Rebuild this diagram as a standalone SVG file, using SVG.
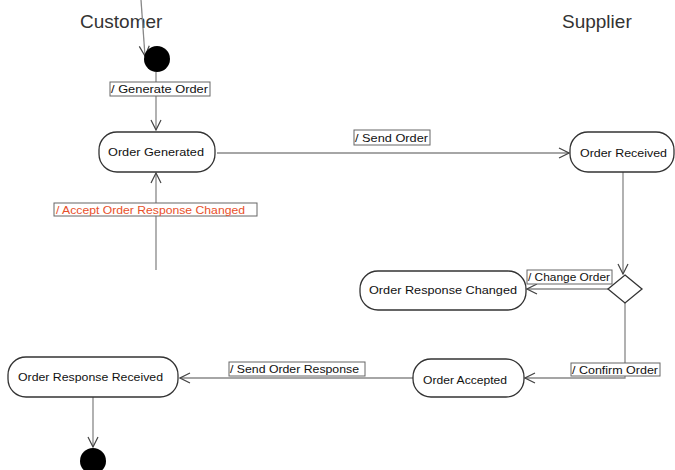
<svg xmlns="http://www.w3.org/2000/svg" width="675" height="470" viewBox="0 0 675 470">
<defs>
<marker id="arr" viewBox="0 0 12 12" refX="11" refY="6" markerWidth="12" markerHeight="12" markerUnits="userSpaceOnUse" orient="auto">
<path d="M1,1 L11,6 L1,11" fill="none" stroke="#444" stroke-width="1.2"/>
</marker>
<style>
.lane{font-family:"Liberation Sans",Arial,sans-serif;font-size:19px;fill:#333}
.node{fill:#fff;stroke:#333;stroke-width:1.3}
.nt{font-family:"Liberation Sans",Arial,sans-serif;font-size:11.5px;fill:#111;dominant-baseline:central}
.lb{fill:#fff;stroke:#666;stroke-width:1}
.lt{font-family:"Liberation Sans",Arial,sans-serif;font-size:11px;fill:#111;dominant-baseline:central}
.red{fill:#e8502a}
.c{fill:none;stroke:#888;stroke-width:1.3}
</style>
</defs>
<rect width="675" height="470" fill="#fff"/>
<text class="lane" x="80" y="28">Customer</text>
<text class="lane" x="562" y="28">Supplier</text>

<g id="connectors">
<path class="c" d="M141,0 L145,56" marker-end="url(#arr)"/>
<path class="c" d="M156,72 L156,130" marker-end="url(#arr)"/>
<path class="c" d="M156,270 L156,173" marker-end="url(#arr)"/>
<path class="c" d="M217,153 L569,153" marker-end="url(#arr)"/>
<path class="c" d="M623,172 L623,274" marker-end="url(#arr)"/>
<path class="c" d="M608,289 L527,289" marker-end="url(#arr)"/>
<path class="c" d="M625,303 L625,378 L525,378" marker-end="url(#arr)"/>
<path class="c" d="M413,378 L180,378" marker-end="url(#arr)"/>
<path class="c" d="M93,397 L93,447" marker-end="url(#arr)"/>
<g id="label-generate"><rect class="lb" x="110" y="82" width="100" height="14"/><text class="lt" x="111" y="89" textLength="97" lengthAdjust="spacingAndGlyphs">/ Generate Order</text></g>
<g id="label-accept"><rect class="lb" x="54" y="203" width="203" height="13"/><text class="lt red" x="56" y="209.5" textLength="189" lengthAdjust="spacingAndGlyphs">/ Accept Order Response Changed</text></g>
<g id="label-send"><rect class="lb" x="354" y="130" width="76" height="15"/><text class="lt" x="355" y="137.5" textLength="73" lengthAdjust="spacingAndGlyphs">/ Send Order</text></g>
<g id="label-change"><rect class="lb" x="527" y="270" width="85" height="14"/><text class="lt" x="528" y="277" textLength="82" lengthAdjust="spacingAndGlyphs">/ Change Order</text></g>
<g id="label-confirm"><rect class="lb" x="571" y="363" width="89" height="13"/><text class="lt" x="572" y="369.5" textLength="86" lengthAdjust="spacingAndGlyphs">/ Confirm Order</text></g>
<g id="label-sendresp"><rect class="lb" x="229" y="362" width="136" height="14"/><text class="lt" x="230" y="369" textLength="129" lengthAdjust="spacingAndGlyphs">/ Send Order Response</text></g>
</g>

<g id="start"><circle cx="157" cy="59" r="13" fill="#000"/></g>
<g id="order-generated"><rect class="node" x="99" y="132" width="116" height="40" rx="18"/><text class="nt" x="108" y="152" textLength="96" lengthAdjust="spacingAndGlyphs">Order Generated</text></g>
<g id="order-received"><rect class="node" x="570" y="132" width="104" height="40" rx="18"/><text class="nt" x="580" y="153" textLength="87" lengthAdjust="spacingAndGlyphs">Order Received</text></g>
<g id="decision"><path class="node" d="M625,275 L642,289 L625,303 L608,289 Z"/></g>
<g id="order-response-changed"><rect class="node" x="360" y="271" width="166" height="39" rx="18"/><text class="nt" x="369" y="290" textLength="148" lengthAdjust="spacingAndGlyphs">Order Response Changed</text></g>
<g id="order-accepted"><rect class="node" x="413" y="359" width="111" height="38" rx="18"/><text class="nt" x="423" y="380" textLength="84" lengthAdjust="spacingAndGlyphs">Order Accepted</text></g>
<g id="order-response-received"><rect class="node" x="8" y="357" width="170" height="40" rx="18"/><text class="nt" x="18" y="377" textLength="145" lengthAdjust="spacingAndGlyphs">Order Response Received</text></g>
<g id="end"><circle cx="93" cy="461" r="13" fill="#000"/></g>
</svg>
